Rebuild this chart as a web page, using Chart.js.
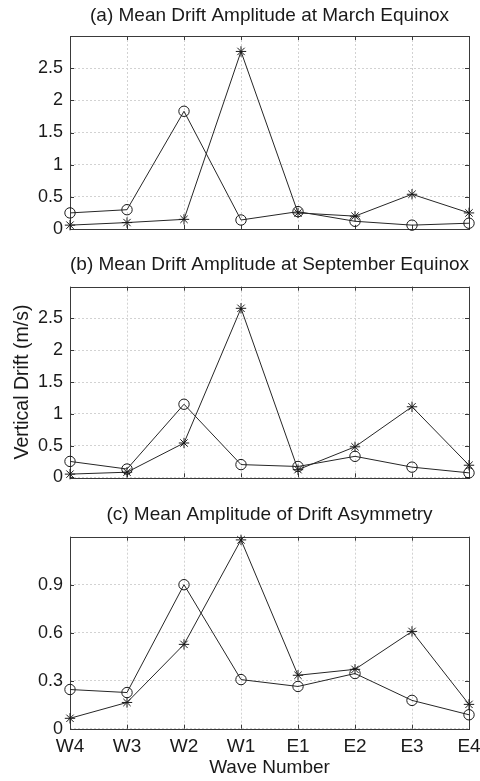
<!DOCTYPE html>
<html><head><meta charset="utf-8">
<script src="https://cdn.jsdelivr.net/npm/chart.js@4/dist/chart.umd.min.js"></script>
<style>
html,body{margin:0;padding:0;background:#fff;}
#wrap{position:relative;width:480px;height:781px;background:#fff;}
canvas{position:absolute;left:0;display:block;}
</style></head><body>
<div id="wrap">
<canvas id="ca" width="480" height="240" style="top:0px"></canvas>
<canvas id="cb" width="480" height="250" style="top:240px"></canvas>
<canvas id="cc" width="480" height="291" style="top:490px"></canvas>
</div>
<script>
// ---- data ----
const categories = ['W4','W3','W2','W1','E1','E2','E3','E4'];
const marchCircle = [0.25, 0.30, 1.83, 0.14, 0.27, 0.12, 0.06, 0.09];
const marchStar   = [0.06, 0.10, 0.15, 2.76, 0.25, 0.20, 0.54, 0.25];
const septCircle  = [0.25, 0.13, 1.15, 0.20, 0.17, 0.33, 0.16, 0.07];
const septStar    = [0.05, 0.08, 0.54, 2.66, 0.12, 0.48, 1.11, 0.19];
const asymCircle  = [0.245, 0.226, 0.90, 0.307, 0.264, 0.345, 0.177, 0.087];
const asymStar    = [0.065, 0.164, 0.527, 1.18, 0.334, 0.371, 0.608, 0.152];
const ticksDrift  = [0, 0.5, 1, 1.5, 2, 2.5];
const labelsDrift = ['0', '0.5', '1', '1.5', '2', '2.5'];
const ticksAsym   = [0, 0.3, 0.6, 0.9];
const labelsAsym  = ['0', '0.3', '0.6', '0.9'];
const titles = ['(a) Mean Drift Amplitude at March Equinox',
                '(b) Mean Drift Amplitude at September Equinox',
                '(c) Mean Amplitude of Drift Asymmetry'];

// ---- styling ----
const FONT = "'Liberation Sans', Arial, sans-serif";
const TXT = '#1a1a1a';
Chart.defaults.font.family = FONT;
Chart.defaults.color = TXT;

const boxPlugin = {
  id: 'box',
  beforeDatasetsDraw(chart) {
    const {ctx, chartArea: a, scales} = chart;
    ctx.save();
    ctx.strokeStyle = '#3a3a3a';
    ctx.lineWidth = 1;
    const L = 4;
    ctx.beginPath();
    scales.x.ticks.forEach((t, i) => {
      const x = Math.round(scales.x.getPixelForTick(i)) + 0.5;
      ctx.moveTo(x, a.bottom); ctx.lineTo(x, a.bottom - L);
      ctx.moveTo(x, a.top); ctx.lineTo(x, a.top + L);
    });
    scales.y.ticks.forEach(t => {
      const y = Math.round(scales.y.getPixelForValue(t.value)) + 0.5;
      ctx.moveTo(a.left, y); ctx.lineTo(a.left + L, y);
      ctx.moveTo(a.right, y); ctx.lineTo(a.right - L, y);
    });
    ctx.stroke();
    ctx.strokeRect(Math.round(a.left) + 0.5, Math.round(a.top) + 0.5,
                   Math.round(a.right - a.left), Math.round(a.bottom - a.top));
    ctx.restore();
  }
};

function ds(values, style) {
  return {
    data: values,
    borderColor: '#262626',
    borderWidth: 1,
    tension: 0,
    pointStyle: style,
    pointRadius: 5.2,
    pointHoverRadius: 5.2,
    pointBorderColor: '#1a1a1a',
    pointBackgroundColor: 'rgba(0,0,0,0)',
    pointBorderWidth: 1,
    clip: false
  };
}

function makeChart(id, cfg) {
  const tickVals = cfg.ticks, tickLbls = cfg.labels;
  return new Chart(document.getElementById(id), {
    type: 'line',
    data: { labels: categories, datasets: [ds(cfg.circle, 'circle'), ds(cfg.star, 'star')] },
    plugins: [boxPlugin],
    options: {
      responsive: false,
      animation: false,
      events: [],
      layout: { padding: { left: 0, right: 11, top: 0, bottom: cfg.padBottom } },
      plugins: {
        legend: { display: false },
        tooltip: { enabled: false },
        title: {
          display: true, text: cfg.title, fullSize: false,
          font: { size: 19, weight: 'normal', family: FONT }, color: TXT,
          padding: { top: cfg.titleTop, bottom: cfg.titleBottom }
        }
      },
      scales: {
        x: {
          type: 'category',
          offset: false,
          grid: { display: true, color: '#d2d2d2', lineWidth: 1, drawTicks: false },
          border: { display: false, dash: [2, 2] },
          ticks: { display: cfg.showX, font: { size: 19 }, color: TXT, padding: 7, maxRotation: 0, autoSkip: false },
          title: { display: cfg.showX, text: 'Wave Number', font: { size: 19 }, color: TXT, padding: { top: 0, bottom: 2 } },
          afterFit(scale) { scale.height = cfg.xHeight; scale.paddingLeft = 0; scale.paddingRight = 0; }
        },
        y: {
          min: 0, max: cfg.yMax,
          afterBuildTicks(scale) { scale.ticks = tickVals.map(v => ({ value: v })); },
          grid: { display: true, color: '#d2d2d2', lineWidth: 1, drawTicks: false },
          border: { display: false, dash: [2, 2] },
          ticks: {
            font: { size: 18 }, color: TXT, padding: 7,
            callback(value) { const i = tickVals.indexOf(value); return i >= 0 ? tickLbls[i] : ''; }
          },
          title: { display: cfg.yTitle, text: 'Vertical Drift (m/s)', font: { size: 19.5 }, color: TXT, padding: { top: 11, bottom: 0 } },
          afterFit(scale) { scale.width = 70; scale.paddingTop = 0; scale.paddingBottom = 0; }
        }
      }
    }
  });
}

makeChart('ca', { title: titles[0], circle: marchCircle, star: marchStar, yMax: 3.0,
  ticks: ticksDrift, labels: labelsDrift, showX: false, yTitle: false,
  titleTop: 4.6, titleBottom: 8.6, padBottom: 11, xHeight: 0 });
makeChart('cb', { title: titles[1], circle: septCircle, star: septStar, yMax: 3.0,
  ticks: ticksDrift, labels: labelsDrift, showX: false, yTitle: true,
  titleTop: 13.8, titleBottom: 10.1, padBottom: 12.7, xHeight: 0 });
makeChart('cc', { title: titles[2], circle: asymCircle, star: asymStar, yMax: 1.2,
  ticks: ticksAsym, labels: labelsAsym, showX: true, yTitle: false,
  titleTop: 13.8, titleBottom: 10.1, padBottom: 0, xHeight: 52.3 });
</script>
</body></html>
